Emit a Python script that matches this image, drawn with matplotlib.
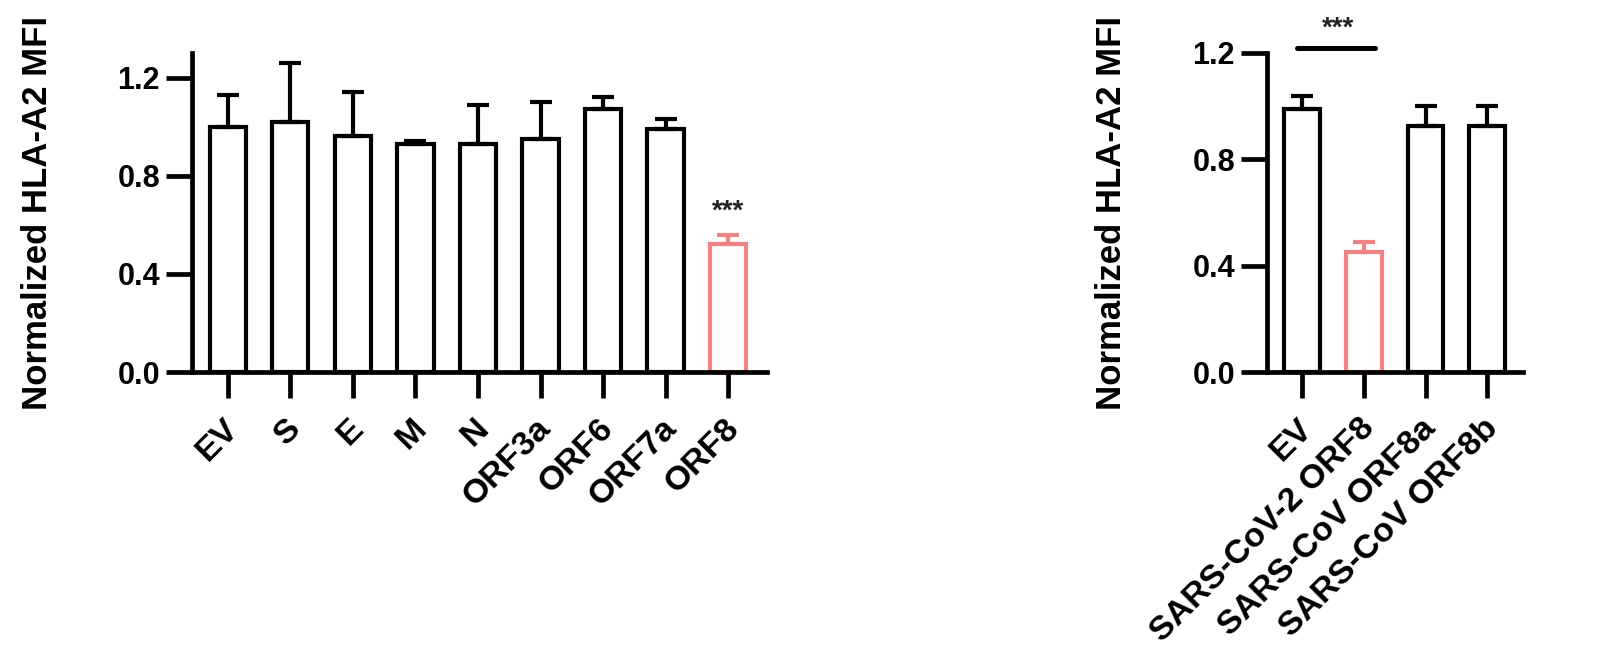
import matplotlib
matplotlib.use("Agg")
import matplotlib.pyplot as plt
import matplotlib.transforms as mtransforms
import numpy as np

plt.rcParams["font.family"] = ["Liberation Sans", "DejaVu Sans"]
plt.rcParams["font.weight"] = "bold"
plt.rcParams["axes.labelweight"] = "bold"

# Panel A: SARS-CoV-2 proteins
genes_a = ["EV", "S", "E", "M", "N", "ORF3a", "ORF6", "ORF7a", "ORF8"]
mean_a = [1.00, 1.02, 0.96, 0.93, 0.93, 0.95, 1.07, 0.99, 0.52]
err_a = [0.13, 0.24, 0.18, 0.01, 0.16, 0.15, 0.05, 0.04, 0.04]

# Panel B: ORF8 variants
genes_b = ["EV", "SARS-CoV-2 ORF8", "SARS-CoV ORF8a", "SARS-CoV ORF8b"]
mean_b = [0.99, 0.45, 0.925, 0.925]
err_b = [0.05, 0.04, 0.075, 0.075]

BLACK = "#000000"
PINK = "#ee8383"
YLABEL = "Normalized HLA-A2 MFI"


def style_axis(ax, ymax):
    ax.spines["top"].set_visible(False)
    ax.spines["right"].set_visible(False)
    for s in ("left", "bottom"):
        ax.spines[s].set_linewidth(3.4)
        ax.spines[s].set_capstyle("projecting")
    ax.set_ylim(0, ymax)
    ax.set_yticks([0.0, 0.4, 0.8, 1.2])
    ax.set_yticklabels(["0.0", "0.4", "0.8", "1.2"])
    ax.tick_params(axis="both", direction="out", length=19, width=3.4,
                   labelsize=22, pad=4)
    ax.tick_params(axis="x", pad=6)


def draw_bars(ax, means, errs, colors):
    x = np.arange(len(means))
    ax.bar(x, means, width=0.58, facecolor="white", edgecolor=colors,
           linewidth=3.0, zorder=2)
    for xi, m, e, c in zip(x, means, errs, colors):
        ax.errorbar(xi, m, yerr=[[0], [e]], fmt="none", ecolor=c,
                    elinewidth=3.0, capsize=8, capthick=3.0, zorder=3)
    return x


def set_xlabels(ax, x, labels):
    ax.set_xticks(x)
    ax.set_xticklabels(labels, rotation=45, ha="right", va="top",
                       rotation_mode="anchor", fontsize=24.5)
    # nudge labels down-left along the diagonal, like the original
    shift = mtransforms.ScaledTranslation(-0.05, -0.06, fig.dpi_scale_trans)
    for lab in ax.get_xticklabels():
        lab.set_transform(lab.get_transform() + shift)


fig = plt.figure(figsize=(15.98, 6.49), dpi=100)

# ---- left panel
ax1 = fig.add_axes([192 / 1598, 277 / 649, 575 / 1598, 319 / 649])
cols_a = [BLACK] * 8 + [PINK]
x1 = draw_bars(ax1, mean_a, err_a, cols_a)
style_axis(ax1, 1.3)
ax1.set_xlim(-0.57, 8.62)
set_xlabels(ax1, x1, genes_a)
ax1.text(8, 0.655, "***", ha="center", va="center", fontsize=20,
         fontweight="bold", color="#222222")
ax1.set_ylabel(YLABEL, fontsize=25, va="center")
ax1.yaxis.set_label_coords(-0.268, 0.50)

# ---- right panel
ax2 = fig.add_axes([1267 / 1598, 277 / 649, 256 / 1598, 319 / 649])
cols_b = [BLACK, PINK, BLACK, BLACK]
x2 = draw_bars(ax2, mean_b, err_b, cols_b)
style_axis(ax2, 1.2)
ax2.set_xlim(-0.57, 3.58)
set_xlabels(ax2, x2, genes_b)
ax2.plot([-0.08, 1.18], [1.22, 1.22], color=BLACK, lw=3.6,
         solid_capstyle="round", clip_on=False)
ax2.text(0.58, 1.293, "***", ha="center", va="center", fontsize=20,
         fontweight="bold", color="#222222")
ax2.set_ylabel(YLABEL, fontsize=25, va="center")
ax2.yaxis.set_label_coords(-0.609, 0.50)

fig.savefig("out.png", dpi=100, facecolor="white")
